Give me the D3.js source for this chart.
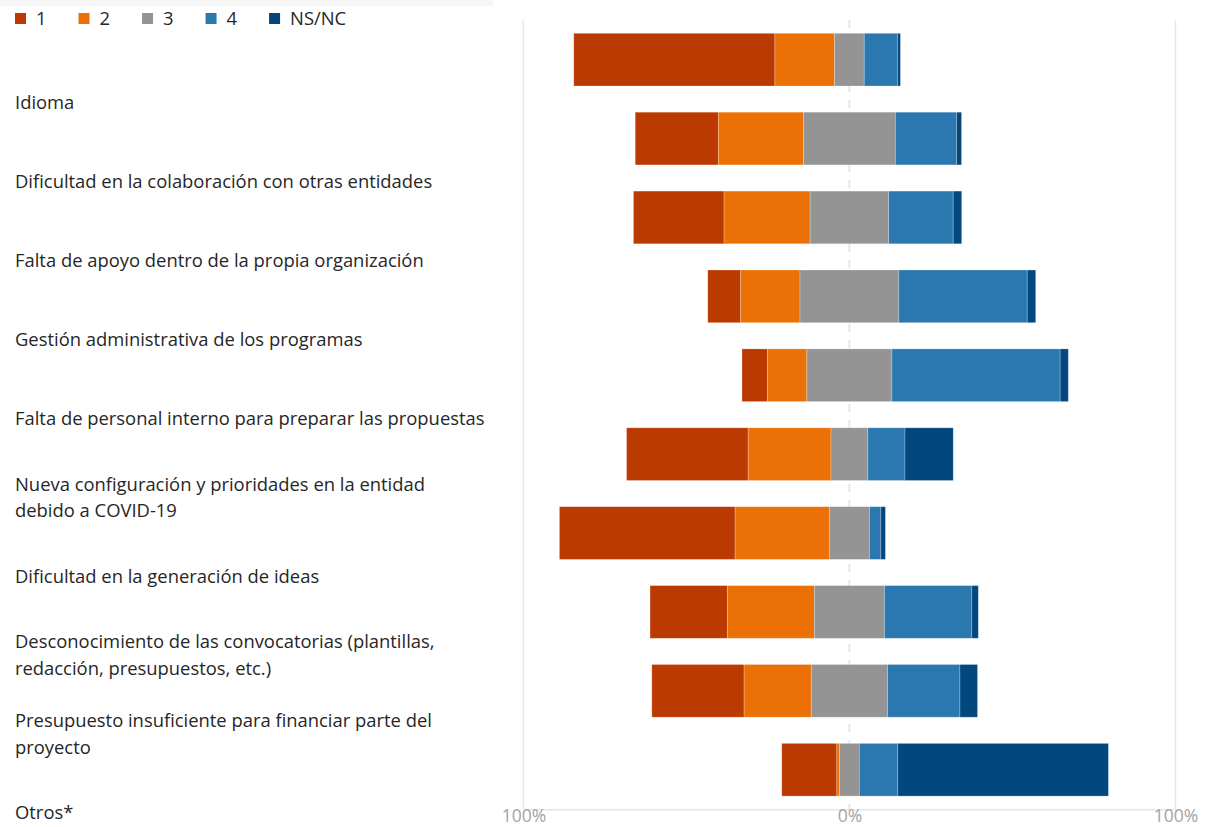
<!DOCTYPE html>
<html>
<head>
<meta charset="utf-8">
<script src="https://cdn.jsdelivr.net/npm/d3@7"></script>
<style>
  html, body { margin: 0; padding: 0; background: #fff; }
  svg { display: block; font-family: "Open Sans", "Noto Sans", sans-serif; }
</style>
</head>
<body>
<svg id="chart" width="1208" height="827"></svg>
<script>
// ---- Data ----
const categories = [
  "Idioma",
  "Dificultad en la colaboración con otras entidades",
  "Falta de apoyo dentro de la propia organización",
  "Gestión administrativa de los programas",
  "Falta de personal interno para preparar las propuestas",
  "Nueva configuración y prioridades en la entidad\ndebido a COVID-19",
  "Dificultad en la generación de ideas",
  "Desconocimiento de las convocatorias (plantillas,\nredacción, presupuestos, etc.)",
  "Presupuesto insuficiente para financiar parte del\nproyecto",
  "Otros*"
];
const seriesNames = ["1", "2", "3", "4", "NS/NC"];
const values1  = [61.7, 25.5, 27.8, 10.1,  7.8, 37.3, 53.9, 23.7, 28.3, 16.9];
const values2  = [18.3, 26.1, 26.4, 18.2, 12.1, 25.4, 28.9, 26.7, 20.6,  0.8];
const values3  = [ 9.1, 28.2, 24.1, 30.3, 26.1, 11.3, 12.3, 21.5, 23.4,  6.1];
const values4  = [10.2, 18.8, 19.8, 39.4, 51.6, 11.4,  3.5, 26.8, 22.2, 11.8];
const valuesNS = [ 0.9,  1.5,  2.6,  2.6,  2.5, 14.8,  1.4,  2.0,  5.4, 64.6];
const tickValues = [-100, 0, 100];
const colors = ["#bb3a02", "#eb7106", "#949494", "#2b78b0", "#03477f"];

const seriesValues = [values1, values2, values3, values4, valuesNS];

// ---- Layout ----
const svg = d3.select("#chart");
const fontSize = 18.4;
const textColor = "#262626";

const x = d3.scaleLinear().domain([-100, 100]).range([523.4, 1175.4]);
const y = d3.scaleBand().domain(categories).range([7.1, 822.3])
  .paddingInner(0.332).paddingOuter(0.332);
const color = d3.scaleOrdinal().domain(seriesNames).range(colors);

const plotTop = 20, plotBottom = 809.3;

// faint top band
svg.append("rect").attr("x", 0).attr("y", 0).attr("width", 493).attr("height", 6)
  .attr("fill", "#f6f6f6");

// gridlines at +/-100
svg.append("g").selectAll("line").data([-100, 100]).join("line")
  .attr("x1", d => x(d)).attr("x2", d => x(d))
  .attr("y1", plotTop).attr("y2", plotBottom)
  .attr("stroke", "#e8e8e8").attr("stroke-width", 1.6);

// zero dashed line
svg.append("line")
  .attr("x1", x(0)).attr("x2", x(0))
  .attr("y1", plotTop).attr("y2", plotBottom)
  .attr("stroke", "#e2e2e2").attr("stroke-width", 1.6)
  .attr("stroke-dasharray", "8,8");

// x axis
const xAxis = d3.axisBottom(x).tickValues(tickValues).tickSize(0).tickPadding(4)
  .tickFormat(d => Math.abs(d) + "%");
const gx = svg.append("g").attr("transform", `translate(0,${plotBottom})`).call(xAxis);
gx.select(".domain").attr("stroke", "#e6e6e6").attr("stroke-width", 1.6);
gx.selectAll(".tick text")
  .attr("font-family", "'Open Sans', 'Noto Sans', sans-serif")
  .attr("font-size", 17.5).attr("fill", "#a3a3a3")
  .attr("dy", null).attr("y", 12.7).attr("dominant-baseline", "auto");

// stacked rows
const rows = categories.map((c, i) => {
  const vals = seriesValues.map(s => s[i]);
  let start = -(vals[0] + vals[1] + vals[2] / 2);
  return vals.map((v, k) => {
    const seg = { cat: c, key: seriesNames[k], x0: start, x1: start + v };
    start += v;
    return seg;
  });
});

svg.append("g").selectAll("g").data(rows).join("g")
  .selectAll("rect").data(d => d).join("rect")
  .attr("x", d => x(d.x0))
  .attr("width", d => x(d.x1) - x(d.x0))
  .attr("y", d => y(d.cat))
  .attr("height", y.bandwidth())
  .attr("fill", d => color(d.key))
  .attr("stroke", "#ffffff").attr("stroke-opacity", 0.3).attr("stroke-width", 0.8);

// category labels (offset below bars as in reference)
const labelOffset = 43.3;
const lineH = 26.5;
const lg = svg.append("g");
categories.forEach(c => {
  const lines = c.split("\n");
  const cy = y(c) + y.bandwidth() / 2 + labelOffset;
  const t = lg.append("text")
    .attr("x", 15)
    .attr("font-size", fontSize)
    .attr("fill", textColor);
  lines.forEach((ln, j) => {
    t.append("tspan")
      .attr("x", 15)
      .attr("y", cy + (j - (lines.length - 1) / 2) * lineH)
      .attr("dy", "0.35em")
      .text(ln);
  });
});

// legend
const leg = svg.append("g");
let lx = 15;
seriesNames.forEach((s, i) => {
  leg.append("rect").attr("x", lx).attr("y", 13).attr("width", 11).attr("height", 11)
    .attr("fill", color(s));
  const t = leg.append("text").attr("x", lx + 21).attr("y", 25)
    .attr("font-size", fontSize).attr("fill", textColor).text(s);
  const w = t.node().getComputedTextLength();
  lx = lx + 21 + w + 32;
});
</script>
</body>
</html>
